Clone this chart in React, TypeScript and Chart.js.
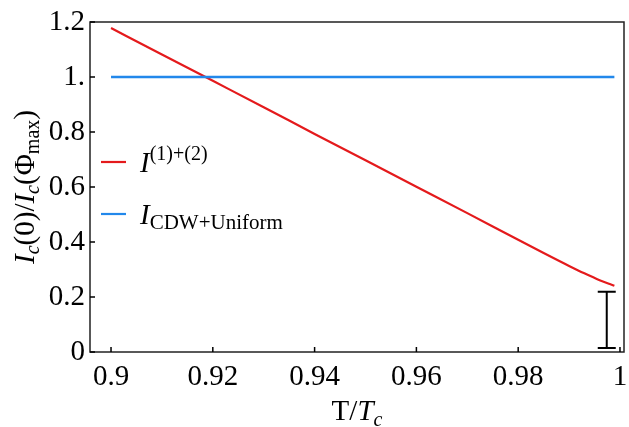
import React, { useEffect, useRef } from "react";
import { Chart, registerables } from "chart.js";

Chart.register(...registerables);

// ---- data ----
const redX = [0.9, 0.91, 0.92, 0.93, 0.94, 0.95, 0.96, 0.97, 0.98, 0.985, 0.99, 0.993, 0.996, 0.998, 0.9989];
const redY = [1.178, 1.082, 0.986, 0.89, 0.793, 0.697, 0.601, 0.505, 0.408, 0.36, 0.313, 0.286, 0.261, 0.247, 0.241];
const blueX = [0.9, 0.9989];
const blueY = [1.0, 1.0];
const errX = 0.9974;
const errLow = 0.015;
const errHigh = 0.219;

const xTickValues = [0.9, 0.92, 0.94, 0.96, 0.98, 1.0];
const xTickLabels = ["0.9", "0.92", "0.94", "0.96", "0.98", "1"];
const yTickValues = [0, 0.2, 0.4, 0.6, 0.8, 1.0, 1.2];
const yTickLabels = ["0", "0.2", "0.4", "0.6", "0.8", "1.", "1.2"];

const X_MIN = 0.89587;
const X_MAX = 1.00079;
const Y_MIN = 0;
const Y_MAX = 1.2;

const RED = "rgb(228,26,28)";
const BLUE = "rgb(34,136,235)";
const SERIF = '"Liberation Serif", "Times New Roman", serif';

type Run = { text: string; font: string; dy: number };

function measureRuns(ctx: CanvasRenderingContext2D, runs: Run[]) {
  let w = 0;
  for (const r of runs) {
    ctx.font = r.font;
    w += ctx.measureText(r.text).width;
  }
  return w;
}

function drawRuns(ctx: CanvasRenderingContext2D, runs: Run[], x: number, y: number) {
  let cx = x;
  ctx.textAlign = "left";
  ctx.textBaseline = "alphabetic";
  for (const r of runs) {
    ctx.font = r.font;
    ctx.fillText(r.text, cx, y + r.dy);
    cx += ctx.measureText(r.text).width;
  }
}

const big = (style: string) => `${style} 29px ${SERIF}`;
const small = (style: string) => `${style} 20px ${SERIF}`;

const overlayPlugin = {
  id: "overlay",
  afterDraw(chart: any) {
    const ctx: CanvasRenderingContext2D = chart.ctx;
    const { left, right, top, bottom } = chart.chartArea;
    const xs = chart.scales.x;
    const ys = chart.scales.y;
    ctx.save();
    ctx.fillStyle = "#000";
    ctx.strokeStyle = "#000";

    // error bar
    const ex = xs.getPixelForValue(errX);
    const eyl = ys.getPixelForValue(errLow);
    const eyh = ys.getPixelForValue(errHigh);
    ctx.lineWidth = 2;
    ctx.beginPath();
    ctx.moveTo(ex, eyl);
    ctx.lineTo(ex, eyh);
    ctx.moveTo(ex - 9, eyl);
    ctx.lineTo(ex + 9, eyl);
    ctx.moveTo(ex - 9, eyh);
    ctx.lineTo(ex + 9, eyh);
    ctx.stroke();

    // frame
    ctx.strokeStyle = "#222";
    ctx.lineWidth = 1.5;
    ctx.strokeRect(left, top, right - left, bottom - top);

    // inward ticks
    ctx.strokeStyle = "#000";
    ctx.lineWidth = 1.5;
    ctx.beginPath();
    for (const v of xTickValues) {
      const px = xs.getPixelForValue(v);
      ctx.moveTo(px, bottom);
      ctx.lineTo(px, bottom - 5);
    }
    for (const v of yTickValues) {
      const py = ys.getPixelForValue(v);
      ctx.moveTo(left, py);
      ctx.lineTo(left + 5, py);
    }
    ctx.stroke();

    // legend
    ctx.lineWidth = 2.2;
    ctx.strokeStyle = RED;
    ctx.beginPath();
    ctx.moveTo(101, 162);
    ctx.lineTo(126, 162);
    ctx.stroke();
    ctx.strokeStyle = BLUE;
    ctx.beginPath();
    ctx.moveTo(101, 214);
    ctx.lineTo(126, 214);
    ctx.stroke();
    ctx.fillStyle = "#000";
    drawRuns(
      ctx,
      [
        { text: "I", font: big("italic"), dy: 0 },
        { text: "(1)+(2)", font: small("normal"), dy: -12 },
      ],
      140,
      172
    );
    drawRuns(
      ctx,
      [
        { text: "I", font: big("italic"), dy: 0 },
        { text: "CDW+Uniform", font: `normal 21px ${SERIF}`, dy: 5 },
      ],
      140,
      224
    );

    // x title
    const xRuns: Run[] = [
      { text: "T/", font: big("normal"), dy: 0 },
      { text: "T", font: big("italic"), dy: 0 },
      { text: "c", font: small("italic"), dy: 6 },
    ];
    const xw = measureRuns(ctx, xRuns);
    drawRuns(ctx, xRuns, (left + right) / 2 - xw / 2, 420);

    // y title (rotated)
    const yRuns: Run[] = [
      { text: "I", font: big("italic"), dy: 0 },
      { text: "c", font: small("italic"), dy: 5 },
      { text: "(0)/", font: big("normal"), dy: 0 },
      { text: "I", font: big("italic"), dy: 0 },
      { text: "c", font: small("italic"), dy: 5 },
      { text: "(Φ", font: big("normal"), dy: 0 },
      { text: "max", font: small("normal"), dy: 5 },
      { text: ")", font: big("normal"), dy: 0 },
    ];
    const yw = measureRuns(ctx, yRuns);
    ctx.translate(34, (top + bottom) / 2);
    ctx.rotate(-Math.PI / 2);
    drawRuns(ctx, yRuns, -yw / 2, 0);
    ctx.restore();
  },
};

export default function App() {
  const ref = useRef<HTMLCanvasElement | null>(null);
  useEffect(() => {
    document.body.style.margin = "0";
    const canvas = ref.current;
    if (!canvas) return;
    const chart = new Chart(canvas, {
      type: "line",
      data: {
        datasets: [
          {
            label: "blue",
            data: blueX.map((x, i) => ({ x, y: blueY[i] })),
            borderColor: BLUE,
            borderWidth: 2.5,
            pointRadius: 0,
            fill: false,
          },
          {
            label: "red",
            data: redX.map((x, i) => ({ x, y: redY[i] })),
            borderColor: RED,
            borderWidth: 2.2,
            pointRadius: 0,
            fill: false,
            cubicInterpolationMode: "monotone",
          },
        ],
      },
      options: {
        animation: false,
        responsive: false,
        maintainAspectRatio: false,
        layout: { padding: { left: 0, right: 5, top: 22, bottom: 0 } },
        plugins: { legend: { display: false }, tooltip: { enabled: false } },
        scales: {
          x: {
            type: "linear",
            min: X_MIN,
            max: X_MAX,
            grid: { display: false, drawTicks: false },
            border: { display: false },
            afterBuildTicks: (s: any) => {
              s.ticks = xTickValues.map((v) => ({ value: v }));
            },
            afterFit: (s: any) => {
              s.height = 75;
              s.paddingLeft = 0;
              s.paddingRight = 0;
            },
            ticks: {
              autoSkip: false,
              maxRotation: 0,
              padding: 8,
              color: "#000",
              font: { family: SERIF, size: 29 },
              callback: (v: any) => {
                const i = xTickValues.findIndex((t) => Math.abs(t - Number(v)) < 1e-9);
                return i >= 0 ? xTickLabels[i] : "";
              },
            },
          },
          y: {
            type: "linear",
            min: Y_MIN,
            max: Y_MAX,
            grid: { display: false, drawTicks: false },
            border: { display: false },
            afterBuildTicks: (s: any) => {
              s.ticks = yTickValues.map((v) => ({ value: v }));
            },
            afterFit: (s: any) => {
              s.width = 90;
              s.paddingTop = 0;
              s.paddingBottom = 0;
            },
            ticks: {
              autoSkip: false,
              padding: 5,
              color: "#000",
              font: { family: SERIF, size: 29 },
              callback: (v: any) => {
                const i = yTickValues.findIndex((t) => Math.abs(t - Number(v)) < 1e-9);
                return i >= 0 ? yTickLabels[i] : "";
              },
            },
          },
        },
      },
      plugins: [overlayPlugin],
    } as any);
    return () => chart.destroy();
  }, []);
  return (
    <div style={{ position: "absolute", left: 0, top: 0, width: 629, height: 427 }}>
      <canvas ref={ref} width={629} height={427} style={{ display: "block" }} />
    </div>
  );
}
